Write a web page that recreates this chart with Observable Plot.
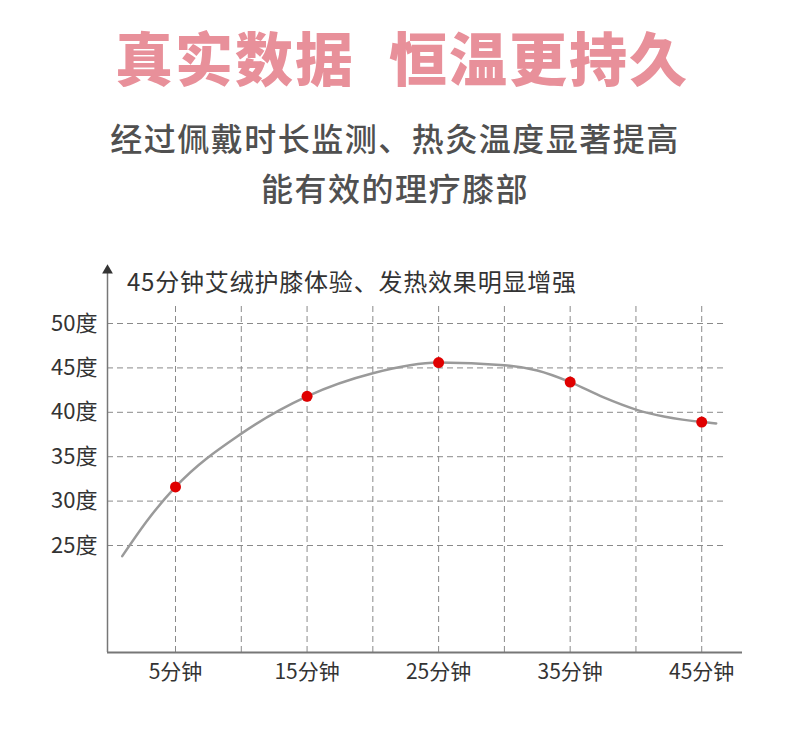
<!DOCTYPE html>
<html><head><meta charset="utf-8">
<script src="https://cdn.jsdelivr.net/npm/d3@7"></script>
<script src="https://cdn.jsdelivr.net/npm/@observablehq/plot@0.6"></script>
<style>
body{margin:0;background:#fff;}
#wrap{position:relative;width:790px;height:739px;overflow:hidden;font-family:"Noto Sans CJK SC",sans-serif;}
#title{position:absolute;left:7px;width:790px;top:16px;text-align:center;font-size:58px;font-weight:900;color:#e8909a;line-height:80px;letter-spacing:2px;white-space:nowrap;}
#title span+span{margin-left:34px;}
#sub{position:absolute;left:0;width:790px;top:112px;text-align:center;font-size:32px;font-weight:500;color:#505050;line-height:50px;letter-spacing:1.5px;}
#ctitle{position:absolute;left:127px;top:264px;font-size:24px;color:#333;letter-spacing:0.8px;white-space:nowrap;line-height:34px;}
#chart{position:absolute;left:0;top:260px;}
</style></head>
<body><div id="wrap"><div id="title"></div><div id="sub"></div><div id="ctitle"></div><div id="chart"></div></div>
<script>
const titleParts = ["真实数据", "恒温更持久"];
const subtitleLines = ["经过佩戴时长监测、热灸温度显著提高", "能有效的理疗膝部"];
const chartTitle = "45分钟艾绒护膝体验、发热效果明显增强";
const yTicks = [25, 30, 35, 40, 45, 50];
const yUnit = "度";
const xTicks = [5, 15, 25, 35, 45];
const xUnit = "分钟";
const xGrid = [5, 10, 15, 20, 25, 30, 35, 40, 45];
const minutes = [5, 15, 25, 35, 45];
const temps = [31.6, 41.8, 45.6, 43.4, 38.9];
const curveMinutes = [0.95, 3, 5, 10, 15, 20, 25, 30, 32.5, 35, 37.5, 40, 45, 46.1];
const curveTemps = [23.8, 28.1, 31.6, 37.6, 41.8, 44.4, 45.6, 45.3, 44.7, 43.4, 41.7, 40.3, 38.9, 38.75];

document.getElementById("title").innerHTML = titleParts.map(t => `<span>${t}</span>`).join("");
document.getElementById("sub").innerHTML = subtitleLines.join("<br>");
document.getElementById("ctitle").textContent = chartTitle;

const xMin = -0.17, xMax = 48.1, yMin = 12.95, yTop = 55.97;
const points = minutes.map((m, i) => ({m, t: temps[i]}));
const curve = curveMinutes.map((m, i) => ({m, t: curveTemps[i]}));

const plot = Plot.plot({
  width: 790,
  height: 442,
  marginLeft: 107,
  marginRight: 48,
  marginTop: 10,
  marginBottom: 50,
  x: {domain: [xMin, xMax]},
  y: {domain: [yMin, yTop]},
  style: {fontFamily: '"Noto Sans CJK SC", sans-serif', background: "transparent"},
  marks: [
    Plot.ruleY(yTicks, {x1: xMin, x2: 46.9, stroke: "#8a8a8a", strokeDasharray: "6,4", strokeWidth: 1}),
    Plot.ruleX(xGrid, {y1: yMin, y2: 52.25, stroke: "#8a8a8a", strokeDasharray: "6,4", strokeWidth: 1}),
    Plot.ruleY([yMin], {x1: xMin, x2: xMax, stroke: "#777", strokeWidth: 2}),
    Plot.ruleX([xMin], {y1: yMin, y2: yTop, stroke: "#777", strokeWidth: 1.5}),
    Plot.dot([{m: xMin, t: yTop}], {x: "m", y: "t", symbol: "triangle", fill: "#333", r: 4}),
    Plot.line(curve, {x: "m", y: "t", curve: "monotone-x", stroke: "#9a9a9a", strokeWidth: 2.5}),
    Plot.dot(points, {x: "m", y: "t", fill: "#e00000", r: 5.5}),
    Plot.axisY(yTicks, {tickSize: 0, tickPadding: 10, tickFormat: d => d + yUnit, fontSize: 22, fill: "#333", label: null}),
    Plot.axisX(xTicks, {tickSize: 0, tickPadding: 12, tickFormat: d => d + xUnit, fontSize: 21, fill: "#333", label: null})
  ]
});
document.getElementById("chart").appendChild(plot);
</script></body></html>
